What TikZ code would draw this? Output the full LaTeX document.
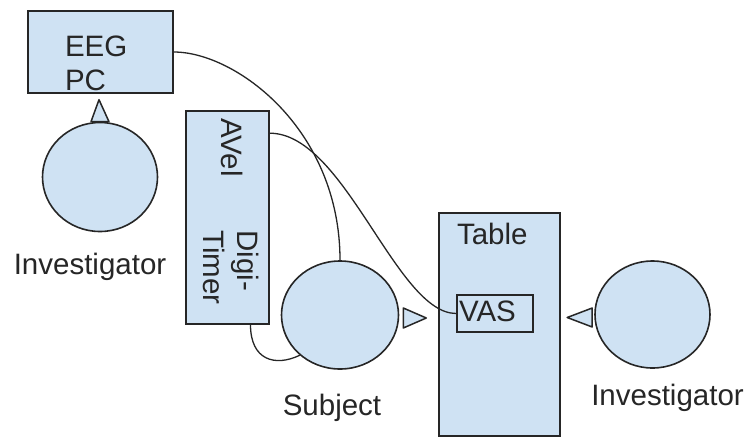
\documentclass[tikz,border=0pt]{standalone}
\usepackage{fontspec}
\setmainfont{Liberation Sans}
\usetikzlibrary{positioning,shapes.geometric}
\definecolor{HeadBlue}{HTML}{CFE2F3}
\definecolor{Ink}{HTML}{262626}

\begin{document}
\begin{tikzpicture}[
  x=1pt, y=-1pt,
  every node/.style={font=\fontsize{29.5}{34}\selectfont, text=Ink},
  box/.style={draw=Ink, fill=HeadBlue, line width=1.6pt, rectangle, inner sep=0pt},
  head/.style={draw=Ink, fill=HeadBlue, line width=1.6pt, ellipse, inner sep=0pt},
  nose/.style={draw=Ink, fill=HeadBlue, line width=1.5pt, line join=round},
  tag/.style={inner sep=0pt},
  wire/.style={draw=Ink, line width=1.3pt},
  node distance=20pt
]
  \useasboundingbox[fill=white] (0,0) rectangle (749,439);

  %% Equipment boxes
  \node[box, align=left, text width=71pt, inner xsep=37pt, inner ysep=24pt,
        text height=21pt, text depth=13pt] (eeg) at (100.5,52) {EEG\\PC};
  \node[box, minimum width=83pt, minimum height=213pt] (dev) at (227.5,217.5) {};
  \node[tag, rotate=-90, anchor=north west] (avel) at (243,118) {AVel};
  \node[tag, rotate=-90, anchor=north west, align=left] (digi) at (259,230) {Digi-\\Timer};

  %% Table with the VAS sheet on it
  \node[box, align=left, text width=85pt, inner xsep=18pt, inner ysep=10pt,
        text height=21pt, text depth=182pt] (table) at (499.5,324.5) {Table};
  \node[box, align=left, text width=72pt, inner xsep=2pt, inner ysep=5pt,
        text height=21pt, text depth=6pt] (vas) at (495,313.5) {VAS};

  %% People (heads with noses)
  \node[head, minimum width=115pt, minimum height=109pt] (inv1) at (100,177) {};
  \node[head, minimum width=117pt, minimum height=108pt] (subj) at (340,315) {};
  \node[head, minimum width=115pt, minimum height=107pt] (inv2) at (652.5,314.5) {};

  \filldraw[nose] ([xshift=-9pt]inv1.north) -- ++(8,-22) -- ++(10,22) -- cycle;
  \filldraw[nose] ([xshift=4pt, yshift=7pt]subj.east) -- ++(0,20) -- ++(23,-10) -- cycle;
  \filldraw[nose] ([xshift=-2pt, yshift=6.5pt]inv2.west) -- ++(0,19) -- ++(-25,-9.5) -- cycle;

  \node[tag, below=21pt of inv1, xshift=-10pt] (lblinv1) {Investigator};
  \node[tag, below=24pt of subj, xshift=-8pt] (lblsubj) {Subject};
  \node[tag, below=15pt of inv2, xshift=15pt] (lblinv2) {Investigator};

  %% Cables
  \draw[wire] (eeg.east) .. controls +(62,0) and +(0,-131) .. (subj.north);
  \draw[wire] ([yshift=-23pt]dev.north east) .. controls +(75,0) and +(-60,0) .. (vas.west);
  \draw[wire] ([xshift=23pt]dev.south) .. controls +(0,35) and +(-25,12) .. (subj.225);
\end{tikzpicture}
\end{document}
